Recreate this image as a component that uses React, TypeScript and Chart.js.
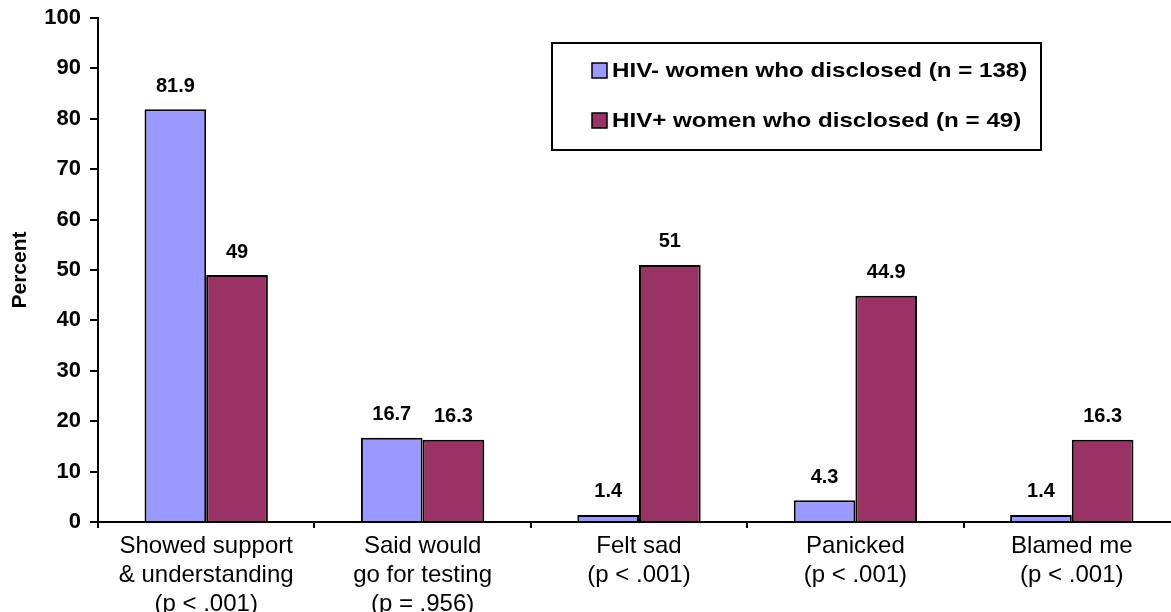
import React, { useEffect, useRef } from "react";
import { Chart, registerables } from "chart.js";

Chart.register(...registerables);

const categories: string[][] = [
  ["Showed support", "& understanding", "(p < .001)"],
  ["Said would", "go for testing", "(p = .956)"],
  ["Felt sad", "(p < .001)"],
  ["Panicked", "(p < .001)"],
  ["Blamed me", "(p < .001)"],
];
const hivNegLabel = "HIV- women who disclosed (n = 138)";
const hivPosLabel = "HIV+ women who disclosed (n = 49)";
const hivNeg = [81.9, 16.7, 1.4, 4.3, 1.4];
const hivPos = [49, 16.3, 51, 44.9, 16.3];
const yTicks = [0, 10, 20, 30, 40, 50, 60, 70, 80, 90, 100];

const FONT = "'Liberation Sans', Arial, sans-serif";

const valueLabels = {
  id: "valueLabels",
  afterDatasetsDraw(chart: any) {
    const ctx = chart.ctx;
    ctx.save();
    ctx.fillStyle = "#000";
    ctx.font = `bold 20px ${FONT}`;
    ctx.textAlign = "center";
    ctx.textBaseline = "middle";
    chart.data.datasets.forEach((ds: any, i: number) => {
      const meta = chart.getDatasetMeta(i);
      meta.data.forEach((bar: any, j: number) => {
        ctx.fillText(String(ds.data[j]), bar.x, bar.y - 23);
      });
    });
    ctx.restore();
  },
};

const boxLegend = {
  id: "boxLegend",
  afterDraw(chart: any) {
    const ctx = chart.ctx;
    ctx.save();
    const x = 552, y = 43, w = 489, h = 107;
    ctx.lineWidth = 2;
    ctx.strokeStyle = "#000";
    ctx.fillStyle = "#fff";
    ctx.fillRect(x, y, w, h);
    ctx.strokeRect(x, y, w, h);
    const items = chart.data.datasets;
    const rows = [70, 120];
    items.forEach((ds: any, i: number) => {
      const cy = rows[i];
      ctx.fillStyle = ds.backgroundColor;
      ctx.fillRect(592, cy - 7, 15, 15);
      ctx.lineWidth = 1.5;
      ctx.strokeStyle = "#000";
      ctx.strokeRect(592, cy - 7, 15, 15);
      ctx.fillStyle = "#000";
      ctx.font = `bold 21px ${FONT}`;
      ctx.textAlign = "left";
      ctx.textBaseline = "middle";
      ctx.save();
      ctx.translate(612, cy + 1);
      ctx.scale(1.15, 1);
      ctx.fillText(ds.label, 0, 0);
      ctx.restore();
    });
    ctx.restore();
  },
};

export default function App() {
  const ref = useRef<HTMLCanvasElement>(null);
  useEffect(() => {
    if (!ref.current) return;
    const chart = new Chart(ref.current, {
      type: "bar",
      data: {
        labels: categories,
        datasets: [
          {
            label: hivNegLabel,
            data: hivNeg,
            backgroundColor: "#9999FF",
            borderColor: "#000",
            borderWidth: 2,
          },
          {
            label: hivPosLabel,
            data: hivPos,
            backgroundColor: "#993366",
            borderColor: "#000",
            borderWidth: 2,
          },
        ],
      },
      options: {
        animation: false,
        responsive: false,
        maintainAspectRatio: false,
        layout: { padding: { top: 18, left: 0, right: 0, bottom: 0 } },
        plugins: {
          legend: { display: false },
          tooltip: { enabled: false },
        },
        datasets: { bar: { categoryPercentage: 0.57, barPercentage: 1 } },
        scales: {
          x: {
            grid: {
              offset: true,
              drawOnChartArea: false,
              drawTicks: true,
              tickLength: 6,
              color: "#000",
              lineWidth: 2,
            },
            border: { color: "#000", width: 2 },
            ticks: {
              color: "#000",
              font: { family: FONT, size: 24, lineHeight: 1.2 },
              maxRotation: 0,
              autoSkip: false,
              padding: 4,
            },
            afterFit(scale: any) {
              scale.height = 90;
              scale.paddingLeft = 0;
              scale.paddingRight = 0;
            },
          },
          y: {
            min: 0,
            max: 100,
            afterBuildTicks(scale: any) {
              scale.ticks = yTicks.map((v) => ({ value: v }));
            },
            grid: {
              drawOnChartArea: false,
              drawTicks: true,
              tickLength: 8,
              color: "#000",
              lineWidth: 2,
            },
            border: { color: "#000", width: 2 },
            ticks: {
              color: "#000",
              font: { family: FONT, size: 22, weight: "bold" },
              padding: 9,
            },
            title: {
              display: true,
              text: "Percent",
              color: "#000",
              font: { family: FONT, size: 21, weight: "bold" },
              padding: { top: 8, bottom: 10 },
            },
            afterFit(scale: any) {
              scale.width = 98;
              scale.paddingTop = 0;
              scale.paddingBottom = 0;
            },
          },
        },
      },
      plugins: [valueLabels, boxLegend],
    } as any);
    return () => chart.destroy();
  }, []);
  return (
    <div
      style={{
        position: "fixed",
        left: 0,
        top: 0,
        width: 1171,
        height: 612,
        overflow: "hidden",
        background: "#fff",
      }}
    >
      <canvas ref={ref} width={1180} height={612} style={{ width: 1180, height: 612 }} />
    </div>
  );
}
